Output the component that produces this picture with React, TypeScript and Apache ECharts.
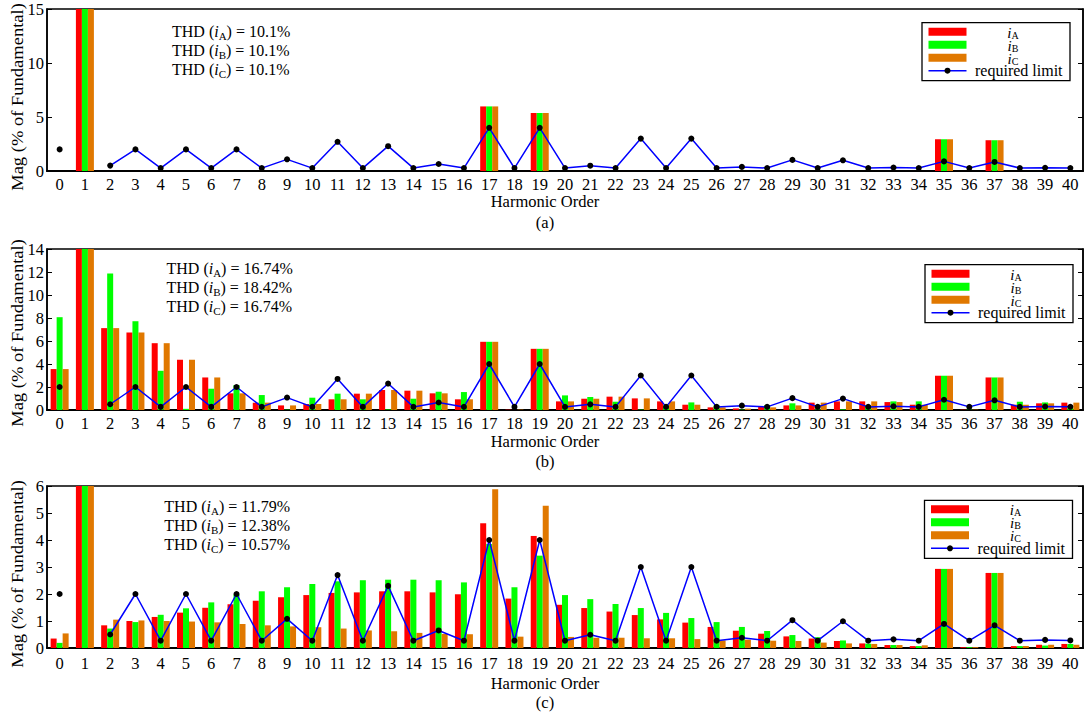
import React, { useEffect, useRef } from 'react';
import * as echarts from 'echarts';

const F = "'Liberation Serif', 'Times New Roman', serif";

const harmonics = ['0','1','2','3','4','5','6','7','8','9','10','11','12','13','14','15','16','17','18','19','20','21','22','23','24','25','26','27','28','29','30','31','32','33','34','35','36','37','38','39','40'];

const limit = [2, null, 0.5, 2, 0.27, 2, 0.27, 2, 0.27, 1.08, 0.27, 2.7, 0.27, 2.3, 0.27, 0.65, 0.27, 4, 0.27, 4, 0.27, 0.49, 0.27, 3, 0.27, 3, 0.27, 0.38, 0.27, 1.03, 0.27, 0.99, 0.27, 0.32, 0.27, 0.89, 0.27, 0.84, 0.27, 0.3, 0.28];

const aA = [0, 100, 0, 0, 0, 0, 0, 0, 0, 0, 0, 0, 0, 0, 0, 0, 0, 5.98, 0, 5.37, 0, 0, 0, 0, 0, 0, 0, 0, 0, 0, 0, 0, 0, 0, 0, 2.94, 0, 2.85, 0, 0, 0];
const aB = [0, 100, 0, 0, 0, 0, 0, 0, 0, 0, 0, 0, 0, 0, 0, 0, 0, 5.98, 0, 5.37, 0, 0, 0, 0, 0, 0, 0, 0, 0, 0, 0, 0, 0, 0, 0, 2.94, 0, 2.85, 0, 0, 0];
const aC = [0, 100, 0, 0, 0, 0, 0, 0, 0, 0, 0, 0, 0, 0, 0, 0, 0, 5.98, 0, 5.37, 0, 0, 0, 0, 0, 0, 0, 0, 0, 0, 0, 0, 0, 0, 0, 2.94, 0, 2.85, 0, 0, 0];

const bA = [3.56, 100, 7.12, 6.74, 5.81, 4.37, 2.83, 1.45, 0.64, 0.4, 0.52, 0.93, 1.42, 1.74, 1.68, 1.45, 0.93, 5.93, 0.03, 5.32, 0.75, 0.98, 1.16, 1.01, 0.75, 0.46, 0.23, 0.14, 0.26, 0.4, 0.64, 0.75, 0.75, 0.69, 0.46, 2.98, 0.03, 2.83, 0.46, 0.58, 0.64];
const bB = [8.07, 100, 11.86, 7.72, 3.41, 0.1, 1.85, 2.17, 1.3, 0.03, 1.07, 1.42, 0.93, 0.05, 0.98, 1.59, 1.56, 5.93, 0, 5.32, 1.27, 1.13, 0.72, 0.03, 0.38, 0.66, 0.4, 0.03, 0.4, 0.58, 0.05, 0.05, 0.35, 0.75, 0.75, 2.98, 0.03, 2.83, 0.72, 0.66, 0.17];
const bC = [3.56, 100, 7.12, 6.74, 5.81, 4.37, 2.83, 1.45, 0.64, 0.4, 0.52, 0.93, 1.42, 1.74, 1.68, 1.45, 0.93, 5.93, 0.03, 5.32, 0.75, 0.98, 1.16, 1.01, 0.75, 0.46, 0.23, 0.12, 0.23, 0.4, 0.64, 0.75, 0.75, 0.69, 0.46, 2.98, 0.03, 2.83, 0.46, 0.58, 0.64];

const cA = [0.35, 100, 0.84, 1.0, 1.15, 1.31, 1.49, 1.62, 1.75, 1.88, 1.96, 2.04, 2.06, 2.1, 2.1, 2.06, 1.99, 4.62, 1.83, 4.15, 1.6, 1.48, 1.35, 1.22, 1.06, 0.94, 0.78, 0.64, 0.53, 0.43, 0.35, 0.26, 0.17, 0.11, 0.07, 2.93, 0.03, 2.78, 0.07, 0.12, 0.15];
const cB = [0.19, 100, 0.72, 0.96, 1.23, 1.47, 1.69, 1.98, 2.1, 2.25, 2.37, 2.47, 2.51, 2.53, 2.53, 2.51, 2.43, 3.85, 2.25, 3.42, 1.96, 1.81, 1.63, 1.48, 1.3, 1.11, 0.96, 0.78, 0.63, 0.48, 0.4, 0.28, 0.16, 0.11, 0.07, 2.93, 0.03, 2.78, 0.07, 0.09, 0.15];
const cC = [0.54, 100, 1.05, 1.02, 1.0, 0.98, 0.95, 0.89, 0.84, 0.8, 0.77, 0.72, 0.65, 0.62, 0.56, 0.52, 0.51, 5.88, 0.42, 5.27, 0.41, 0.38, 0.38, 0.36, 0.36, 0.33, 0.28, 0.31, 0.27, 0.26, 0.2, 0.17, 0.15, 0.11, 0.1, 2.93, 0.03, 2.78, 0.07, 0.12, 0.12];

const thdA = ['10.1%', '16.74%', '11.79%'];
const thdB = ['10.1%', '18.42%', '12.38%'];
const thdC = ['10.1%', '16.74%', '10.57%'];
const panelLabels = ['(a)', '(b)', '(c)'];
const yMax = [15, 14, 6];
const yInterval = [5, 2, 1];
const phaseSubs = ['A', 'B', 'C'];
const legendNames = ['required limit'];

const COLORS = ['#FF0000', '#00FF00', '#E07800'];

// layout
const PANELS = [
  { top: 9, height: 162, labelMargin: 5, thdX: 172, thdY: 32.3, thdStep: 19, legX: 922, legY: 22.7, xNameY: 201.5, tagY: 222, yLabelY: 97 },
  { top: 249, height: 161, labelMargin: 5, thdX: 166.5, thdY: 269.3, thdStep: 19, legX: 925, legY: 264.7, xNameY: 441.7, tagY: 461.5, yLabelY: 333 },
  { top: 486, height: 162, labelMargin: 7, thdX: 164.3, thdY: 507.7, thdStep: 19, legX: 924.5, legY: 500.3, xNameY: 683.3, tagY: 702.7, yLabelY: 574 },
];

const rich: any = {
  n: { fontSize: 16, fontFamily: F, fill: '#000', lineHeight: 18, verticalAlign: 'top' },
  i: { fontSize: 16, fontFamily: F, fill: '#000', fontStyle: 'italic', lineHeight: 18, verticalAlign: 'top' },
  s: { fontSize: 11, fontFamily: F, fill: '#000', lineHeight: 11, padding: [7, 0, 0, 0], verticalAlign: 'top' },
};
const richLeg: any = {
  i: { fontSize: 15, fontFamily: F, fill: '#000', fontStyle: 'italic', lineHeight: 13, verticalAlign: 'top' },
  s: { fontSize: 10, fontFamily: F, fill: '#000', lineHeight: 8, padding: [5, 0, 0, 0], verticalAlign: 'top' },
};

export default function App() {
  const ref = useRef<HTMLDivElement>(null);
  useEffect(() => {
    if (!ref.current) return;
    const chart = echarts.init(ref.current, undefined, { renderer: 'svg' });
    const data = [[aA, aB, aC], [bA, bB, bC], [cA, cB, cC]];
    const grids: any[] = [];
    const xAxes: any[] = [];
    const yAxes: any[] = [];
    const series: any[] = [];
    const graphic: any[] = [];
    PANELS.forEach((p, k) => {
      grids.push({ left: 47, right: 2, top: p.top, height: p.height, show: true, borderColor: '#000', borderWidth: 1.5, backgroundColor: 'transparent' });
      xAxes.push({
        type: 'category', gridIndex: k, data: harmonics, boundaryGap: true,
        axisLine: { lineStyle: { color: '#000', width: 2 } },
        axisTick: { show: false },
        axisLabel: { interval: 0, color: '#000', fontSize: 16.5, fontFamily: F, margin: p.labelMargin },
      });
      const yBase = {
        type: 'value', gridIndex: k, min: 0, max: yMax[k], interval: yInterval[k],
        axisLine: { show: true, lineStyle: { color: '#000', width: 1.5 } },
        axisTick: { show: true, inside: true, length: 5, lineStyle: { color: '#000', width: 1 } },
        splitLine: { show: false },
      };
      yAxes.push({ ...yBase, position: 'left', axisLabel: { color: '#000', fontSize: 16.5, fontFamily: F, margin: 3 } });
      yAxes.push({ ...yBase, position: 'right', axisLabel: { show: false } });
      data[k].forEach((d, j) => {
        series.push({
          type: 'bar', name: 'i' + phaseSubs[j], xAxisIndex: k, yAxisIndex: 2 * k, data: d,
          barWidth: 6, barGap: '0%', clip: true, silent: true,
          itemStyle: { color: COLORS[j] },
        });
      });
      series.push({
        type: 'line', name: legendNames[0], xAxisIndex: k, yAxisIndex: 2 * k, data: limit,
        symbol: 'circle', symbolSize: 6, connectNulls: false, z: 5, silent: true,
        lineStyle: { color: '#0000FF', width: 1.5 }, itemStyle: { color: '#000' },
      });

      // THD texts
      const thds = [thdA[k], thdB[k], thdC[k]];
      thds.forEach((v, j) => {
        graphic.push({
          type: 'text', x: p.thdX, y: p.thdY + j * p.thdStep - 9, z: 10,
          style: { text: `{n|THD (}{i|i}{s|${phaseSubs[j]}}{n|) = ${v}}`, rich, fill: '#000', align: 'left', verticalAlign: 'top', fontFamily: F, fontSize: 16 },
        });
      });

      // legend
      const lx = p.legX, ly = p.legY;
      graphic.push({ type: 'rect', z: 20, shape: { x: lx, y: ly, width: 148, height: 58 }, style: { fill: '#fff', stroke: '#000', lineWidth: 1.3 } });
      const rowOff = [9, 22, 35, 48];
      COLORS.forEach((c, j) => {
        graphic.push({ type: 'rect', z: 21, shape: { x: lx + 6.5, y: ly + rowOff[j] - 4, width: 38, height: 8 }, style: { fill: c } });
        graphic.push({
          type: 'text', z: 21, x: lx + 91, y: ly + rowOff[j] - 6.5,
          style: { text: `{i|i}{s|${phaseSubs[j]}}`, rich: richLeg, fill: '#000', align: 'center', verticalAlign: 'top', fontFamily: F, fontSize: 15 },
        });
      });
      graphic.push({ type: 'line', z: 21, shape: { x1: lx + 6.5, y1: ly + rowOff[3], x2: lx + 44.5, y2: ly + rowOff[3] }, style: { stroke: '#0000FF', lineWidth: 1.5 } });
      graphic.push({ type: 'circle', z: 22, shape: { cx: lx + 25.5, cy: ly + rowOff[3], r: 3 }, style: { fill: '#000' } });
      graphic.push({
        type: 'text', z: 21, x: lx + 53, y: ly + rowOff[3],
        style: { text: legendNames[0], fill: '#000', fontSize: 16, lineHeight: 13, fontFamily: F, align: 'left', verticalAlign: 'middle' },
      });

      // axis names
      graphic.push({ type: 'text', x: 545, y: p.xNameY, style: { text: 'Harmonic Order', fill: '#000', fontSize: 16.5, fontFamily: F, align: 'center', verticalAlign: 'middle' } });
      graphic.push({ type: 'text', x: 545, y: p.tagY, style: { text: panelLabels[k], fill: '#000', fontSize: 16.5, fontFamily: F, align: 'center', verticalAlign: 'middle' } });
      graphic.push({ type: 'text', x: 17.5, y: p.yLabelY, rotation: Math.PI / 2, scaleX: 1.09, style: { text: 'Mag (% of Fundamental)', fill: '#000', fontSize: 17, fontFamily: F, align: 'center', verticalAlign: 'middle' } });
    });

    chart.setOption({
      animation: false,
      backgroundColor: '#fff',
      textStyle: { fontFamily: F },
      grid: grids,
      xAxis: xAxes,
      yAxis: yAxes,
      series,
      graphic,
    });
    return () => chart.dispose();
  }, []);
  return <div ref={ref} style={{ position: 'absolute', left: 0, top: 0, width: 1085, height: 716 }} />;
}
